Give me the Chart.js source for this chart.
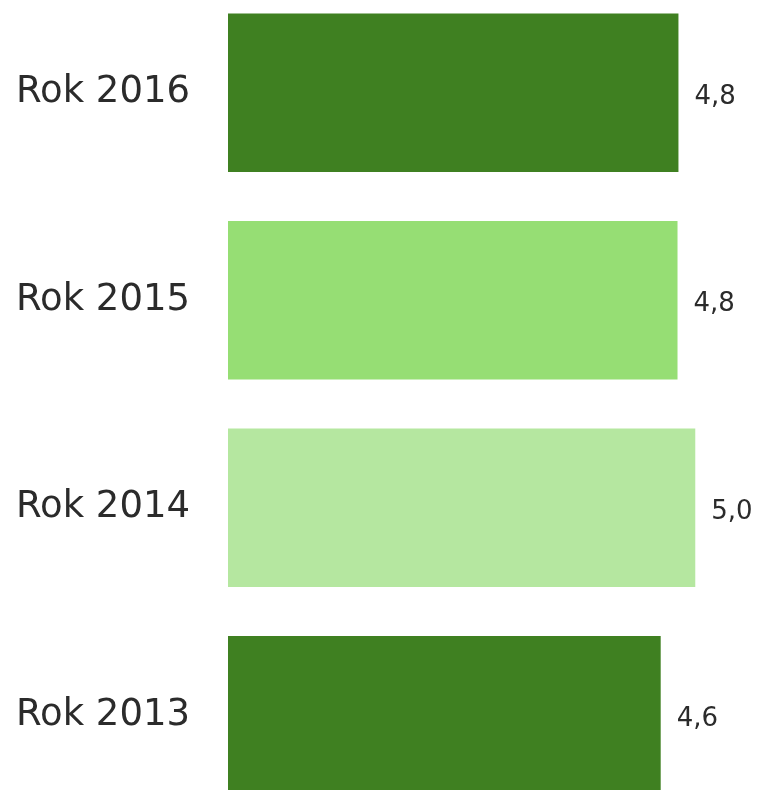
<!DOCTYPE html>
<html>
<head>
<meta charset="utf-8">
<script src="https://cdn.jsdelivr.net/npm/chart.js@4/dist/chart.umd.min.js"></script>
<style>
  html, body { margin: 0; padding: 0; background: #fff; overflow: hidden; }
  body { width: 760px; height: 790px; position: relative; }
  #wrap { position: absolute; left: 0; top: -11px; width: 760px; height: 830px; }
</style>
</head>
<body>
<div id="wrap"><canvas id="chart"></canvas></div>
<script>
// data
const years = ["Rok 2016", "Rok 2015", "Rok 2014", "Rok 2013"]
const values = [4.82, 4.81, 5.0, 4.63]
const barColors = ["#3f8021", "#96de74", "#b5e7a0", "#3f8021"]

const textColor = "#2b2b2b"
const fontFamily = "'DejaVu Sans', Verdana, sans-serif"

// draws "4,8" style labels just right of each bar
const valueLabels = {
  id: "valueLabels",
  afterDatasetsDraw(chart) {
    const ctx = chart.ctx
    const meta = chart.getDatasetMeta(0)
    ctx.save()
    ctx.font = "26px " + fontFamily
    ctx.fillStyle = textColor
    ctx.textAlign = "left"
    ctx.textBaseline = "middle"
    meta.data.forEach((bar, i) => {
      const txt = values[i].toFixed(1).replace(".", ",")
      ctx.fillText(txt, bar.x + 16, bar.y + 4)
    })
    ctx.restore()
  },
}

const chart = new Chart(document.getElementById("chart"), {
  type: "bar",
  data: {
    labels: years,
    datasets: [
      {
        data: values,
        backgroundColor: barColors,
        borderWidth: 0,
        categoryPercentage: 1,
        barPercentage: 0.764,
      },
    ],
  },
  options: {
    indexAxis: "y",
    responsive: true,
    maintainAspectRatio: false,
    animation: false,
    layout: { padding: { left: 0, right: 18, top: 0, bottom: 0 } },
    plugins: {
      legend: { display: false },
      tooltip: { enabled: false },
    },
    scales: {
      x: {
        display: false,
        min: 0,
        max: 5.5,
      },
      y: {
        grid: { display: false, drawTicks: false },
        border: { display: false },
        ticks: {
          padding: 38,
          color: textColor,
          font: { family: fontFamily, size: 37 },
        },
        afterFit: (scale) => {
          scale.width = 228
          // tick padding would otherwise eat space above and below
          scale.paddingTop = 0
          scale.paddingBottom = 0
        },
      },
    },
  },
  plugins: [valueLabels],
})
</script>
</body>
</html>
